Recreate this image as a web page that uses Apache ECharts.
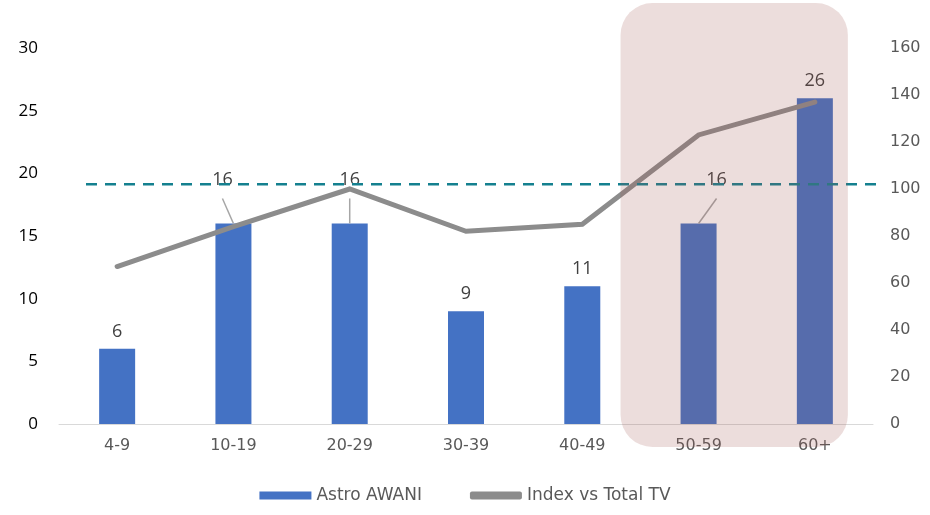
<!DOCTYPE html>
<html>
<head>
<meta charset="utf-8">
<script src="https://cdn.jsdelivr.net/npm/echarts@6/dist/echarts.min.js"></script>
<style>
  html, body { margin: 0; padding: 0; background: #fff; }
  #container { width: 930px; height: 515px; }
</style>
</head>
<body>
<div id="container"></div>
<script>
const categories = ['4-9', '10-19', '20-29', '30-39', '40-49', '50-59', '60+'];
const awaniValues = [6, 16, 16, 9, 11, 16, 26];
const indexValues = [67, 84, 100, 82, 85, 123, 137];
const leftTicks = [0, 30, 5];
const rightTicks = [0, 160, 20];
const benchmark = 102;

// labels that were pushed up above the benchmark line (with leader lines)
const labelShift = { 1: [-11, -27], 2: [0, -27], 5: [18, -27] };

let dom = document.getElementById('container');
let myChart = echarts.init(dom);

let option = {
  animation: false,
  grid: { left: 59, right: 57, top: 48, bottom: 91 },
  legend: {
    bottom: 6,
    left: 'center',
    itemGap: 48,
    itemWidth: 52,
    itemHeight: 8,
    textStyle: { color: '#595959', fontSize: 17, fontFamily: 'DejaVu Sans' },
    data: [
      { name: 'Astro AWANI', icon: 'rect' },
      { name: 'Index vs Total TV', icon: 'roundRect', itemStyle: { color: '#8c8c8c' } }
    ]
  },
  xAxis: {
    type: 'category',
    data: categories,
    axisTick: { show: false },
    axisLine: { lineStyle: { color: '#d9d9d9', width: 1 } },
    axisLabel: { color: '#595959', fontSize: 16, fontFamily: 'DejaVu Sans', margin: 14 }
  },
  yAxis: [
    {
      type: 'value',
      min: leftTicks[0], max: leftTicks[1], interval: leftTicks[2],
      splitLine: { show: false },
      axisLabel: { color: '#000', fontSize: 17, fontFamily: 'Open Sans', margin: 21 }
    },
    {
      type: 'value',
      min: rightTicks[0], max: rightTicks[1], interval: rightTicks[2],
      splitLine: { show: false },
      axisLabel: { color: '#595959', fontSize: 16, fontFamily: 'DejaVu Sans', margin: 17 }
    }
  ],
  series: [
    {
      name: 'Astro AWANI',
      type: 'bar',
      data: awaniValues,
      barWidth: 36,
      itemStyle: { color: '#4472c4' },
      label: {
        show: true,
        position: 'top',
        distance: 8,
        color: '#404040',
        fontSize: 18,
        fontFamily: 'Open Sans'
      },
      labelLayout: function (params) {
        let s = labelShift[params.dataIndex];
        return s ? { dx: s[0], dy: s[1] } : {};
      },
      z: 2
    },
    {
      name: 'Index vs Total TV',
      type: 'line',
      yAxisIndex: 1,
      data: indexValues,
      symbol: 'none',
      lineStyle: { color: '#8c8c8c', width: 5, cap: 'round', join: 'miter' },
      itemStyle: { color: '#8c8c8c' },
      z: 3
    }
  ]
};

myChart.setOption(option);

// dashed benchmark, leader lines and highlighted age band, placed through the chart's scales
let yB = myChart.convertToPixel({ yAxisIndex: 1 }, benchmark);
let x50 = myChart.convertToPixel({ xAxisIndex: 0 }, '50-59');
let x60 = myChart.convertToPixel({ xAxisIndex: 0 }, '60+');

let elements = [
  {
    type: 'line',
    shape: { x1: 86, y1: yB, x2: 876, y2: yB },
    style: { stroke: '#14808f', lineWidth: 2.5, lineDash: [11, 8] },
    z: 5
  }
];
Object.keys(labelShift).forEach(function (k) {
  let i = +k;
  let top = myChart.convertToPixel({ xAxisIndex: 0, yAxisIndex: 0 }, [categories[i], awaniValues[i]]);
  let s = labelShift[i];
  elements.push({
    type: 'line',
    shape: { x1: top[0] + s[0], y1: top[1] + s[1] + 2, x2: top[0], y2: top[1] },
    style: { stroke: '#a6a6a6', lineWidth: 1.5 },
    z: 4
  });
});
elements.push({
  type: 'rect',
  shape: { x: x50 - 78, y: 3, width: (x60 - x50) + 111, height: 444, r: 32 },
  style: { fill: 'rgba(160, 85, 80, 0.2)' },
  z: 10
});

myChart.setOption({ graphic: { elements: elements } });
</script>
</body>
</html>
